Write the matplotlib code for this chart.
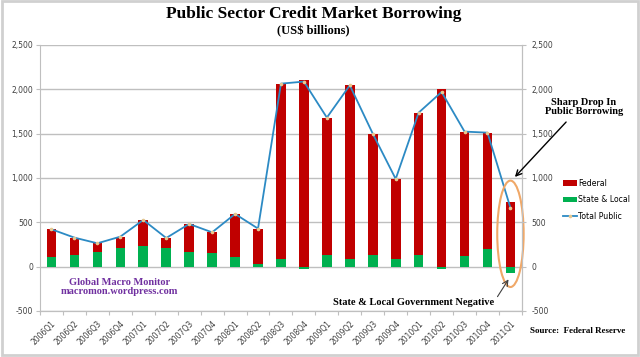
import numpy as np
import matplotlib.pyplot as plt
from matplotlib.patches import Ellipse, Rectangle

quarters = ['2006Q1', '2006Q2', '2006Q3', '2006Q4', '2007Q1', '2007Q2', '2007Q3',
            '2007Q4', '2008Q1', '2008Q2', '2008Q3', '2008Q4', '2009Q1', '2009Q2',
            '2009Q3', '2009Q4', '2010Q1', '2010Q2', '2010Q3', '2010Q4', '2011Q1']
federal = [316, 192, 98, 124, 289, 109, 316, 237, 481, 395, 1978,
           2109, 1553, 1959, 1368, 906, 1605, 2000, 1399, 1315, 733]
state_local = [105, 135, 165, 214, 237, 214, 165, 150, 113, 34, 86,
               -22, 128, 86, 132, 83, 132, -30, 124, 196, -70]
total_public = [421, 327, 263, 338, 526, 323, 481, 387, 594, 429, 2064,
                2087, 1681, 2045, 1500, 989, 1737, 1970, 1523, 1511, 663]
yticks = [-500, 0, 500, 1000, 1500, 2000, 2500]

red = '#C00000'
green = '#00B050'
blue = '#2C8AC4'
grey = '#BFBFBF'
serif = 'Liberation Serif'

fig = plt.figure(figsize=(6.4, 3.57), dpi=100)
fig.patches.append(Rectangle((0.003, 0.006), 0.994, 0.99, transform=fig.transFigure,
                             fill=False, edgecolor='#D0D0D0', lw=2))

ax = fig.add_axes([0.0625, 0.129, 0.753, 0.745])
x = np.arange(len(quarters))

# Excel style stacking: federal sits on positive state & local, negatives hang below zero
st = np.array(state_local)
ax.bar(x, federal, width=0.42, bottom=np.clip(st, 0, None), color=red,
       label='Federal', zorder=3)
ax.bar(x, st, width=0.42, color=green, label='State & Local', zorder=3)
ax.plot(x, total_public, color=blue, lw=1.3, marker='o', ms=1.6,
        mfc='#E8C890', mec='#E8C890', label='Total Public', zorder=4)

ax.set_xlim(-0.5, len(quarters) - 0.5)
ax.set_ylim(-500, 2500)
ax.set_yticks(yticks)
ax.set_yticklabels([f'{v:,}' for v in yticks], fontsize=5.5, color='#404040')
ax.yaxis.grid(True, color=grey, lw=1)
ax.set_axisbelow(True)
ax.tick_params(axis='y', length=3, color=grey, pad=2)
ax.set_xticks(x)
ax.set_xticklabels(quarters, rotation=45, fontsize=5.5, color='#404040',
                   ha='right', rotation_mode='anchor')
ax.tick_params(axis='x', length=0, pad=6)
ax.spines['top'].set_visible(False)
for s in ['left', 'right', 'bottom']:
    ax.spines[s].set_color(grey)

# category axis sits at zero
sec = ax.secondary_xaxis(0)
sec.set_xticks(np.arange(-0.5, len(quarters), 1))
sec.set_xticklabels([])
sec.tick_params(length=3, color=grey)
sec.spines['bottom'].set_color(grey)

ax2 = ax.twinx()
ax2.set_ylim(-500, 2500)
ax2.set_yticks(yticks)
ax2.set_yticklabels([f'{v:,}' for v in yticks], fontsize=5.5, color='#404040')
ax2.tick_params(axis='y', length=3, color=grey, pad=4)
for s in ['top', 'left', 'bottom']:
    ax2.spines[s].set_visible(False)
ax2.spines['right'].set_color(grey)

ax.add_patch(Ellipse((20, 370), 1.15, 1200, fill=False, edgecolor='#F0A868',
                     lw=1.5, clip_on=False, zorder=5))

h, l = ax.get_legend_handles_labels()
order = [1, 2, 0]
fig.legend([h[i] for i in order], [l[i] for i in order], loc='center left',
           bbox_to_anchor=(0.868, 0.44), frameon=False, fontsize=5.6,
           handlelength=1.8, handletextpad=0.2, labelspacing=1.0)

fig.text(0.49, 0.96, 'Public Sector Credit Market Borrowing', ha='center', va='center',
         fontsize=12.5, fontweight='bold', family=serif)
fig.text(0.49, 0.913, '(US$ billions)', ha='center', va='center',
         fontsize=9, fontweight='bold', family=serif)
fig.text(0.187, 0.196, 'Global Macro Monitor\nmacromon.wordpress.com', ha='center',
         va='center', fontsize=7.5, fontweight='bold', family=serif, color='#7030A0',
         linespacing=1.1)
fig.text(0.912, 0.701, 'Sharp Drop In\nPublic Borrowing', ha='center', va='center',
         fontsize=7.5, fontweight='bold', family=serif, linespacing=1.05)
fig.text(0.772, 0.154, 'State & Local Government Negative', ha='right', va='center',
         fontsize=7.5, fontweight='bold', family=serif)
fig.text(0.977, 0.073, 'Source:  Federal Reserve', ha='right', va='center',
         fontsize=6.5, fontweight='bold', family=serif)

fig.add_artist(plt.Annotation('', xy=(513 / 640, 1 - 179 / 357), xycoords='figure fraction',
                              xytext=(568 / 640, 1 - 120 / 357), textcoords='figure fraction',
                              arrowprops=dict(arrowstyle='->', color='black', lw=1)))
fig.add_artist(plt.Annotation('', xy=(510 / 640, 1 - 277 / 357), xycoords='figure fraction',
                              xytext=(496 / 640, 1 - 299 / 357), textcoords='figure fraction',
                              arrowprops=dict(arrowstyle='->', color='#404040', lw=0.8)))

fig.savefig('out.png', dpi=100)
